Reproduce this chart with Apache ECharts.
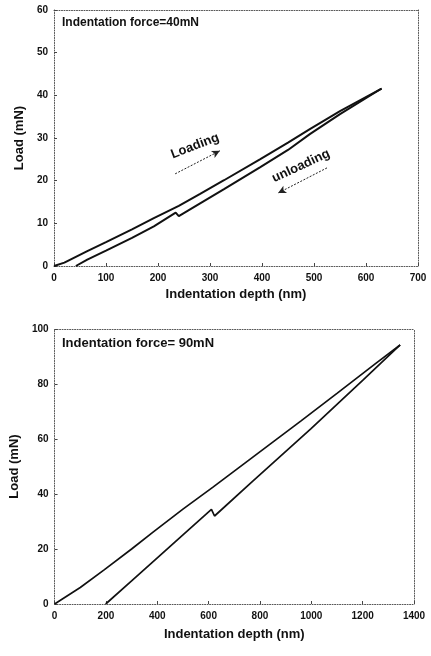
<!DOCTYPE html>
<html>
<head>
<meta charset="utf-8">
<script src="https://cdn.jsdelivr.net/npm/echarts@6/dist/echarts.min.js"></script>
<style>
html,body{margin:0;padding:0;background:#fff;}
#c{width:431px;height:656px;}
</style>
</head>
<body>
<div id="c"></div>
<script>
// ---- Top chart (40 mN) ----
var topLoadDepth   = [0, 20, 64, 100, 150, 192, 240, 281, 327, 396, 450, 492, 550, 630];
var topLoadForce   = [0, 0.8, 3.5, 5.6, 8.6, 11.2, 14.1, 16.9, 20.1, 25.0, 28.9, 32.1, 36.3, 41.6];
var topUnloadDepth = [630, 550, 492, 450, 396, 327, 281, 240, 234, 192, 150, 100, 64, 42];
var topUnloadForce = [41.6, 35.6, 30.9, 27.2, 23.1, 18.0, 14.7, 11.7, 12.5, 9.3, 6.6, 3.6, 1.5, 0];
var topXTicks = [0, 100, 200, 300, 400, 500, 600, 700];
var topYTicks = [0, 10, 20, 30, 40, 50, 60];

// ---- Bottom chart (90 mN) ----
var botLoadDepth   = [0, 100, 193, 300, 386, 500, 617, 771, 960, 1100, 1250, 1346];
var botLoadForce   = [0, 6.0, 12.4, 20.0, 26.3, 34.5, 42.5, 53.3, 66.6, 76.6, 87.4, 94.2];
var botUnloadDepth = [1346, 1200, 999, 771, 623, 611, 500, 386, 300, 199];
var botUnloadForce = [94.2, 81.3, 63.8, 44.6, 32.0, 34.4, 25.1, 15.6, 8.4, 0];
var botXTicks = [0, 200, 400, 600, 800, 1000, 1200, 1400];
var botYTicks = [0, 20, 40, 60, 80, 100];

// annotation arrows for the top chart (data coordinates: start, end)
var loadingArrow   = [[233, 21.6], [319, 27.0]];
var unloadingArrow = [[525, 23.0], [431, 17.1]];

function pairs(xs, ys){ return xs.map(function(x,i){ return [x, ys[i]]; }); }

var FONT = '"Liberation Sans", Arial, sans-serif';
var dotted = {color:'#555', width:1, type:[1,1.5]};

function axesFor(gridIndex, ticks, nameText, isX, nameGap){
  var mn = ticks[0], mx = ticks[ticks.length-1], iv = ticks[1]-ticks[0];
  var main = {
    type:'value', gridIndex:gridIndex, min:mn, max:mx, interval:iv,
    name:nameText, nameLocation:'middle', nameGap:nameGap,
    nameTextStyle:{fontFamily:FONT, fontWeight:'bold', fontSize:13, color:'#111'},
    axisLine:{show:true, lineStyle:dotted},
    axisTick:{show:true, inside:true, length:3, lineStyle:{color:'#444'}},
    axisLabel:{fontFamily:FONT, fontWeight:'bold', fontSize:10, color:'#111', margin:isX?7:6,
      formatter:function(v){ return String(v); }},
    splitLine:{show:false}
  };
  var opp = {
    type:'value', gridIndex:gridIndex, min:mn, max:mx, interval:iv,
    position: isX ? 'top' : 'right',
    axisLine:{show:true, onZero:false, lineStyle:dotted},
    axisTick:{show:false}, axisLabel:{show:false}, splitLine:{show:false}
  };
  return [main, opp];
}

var tx = axesFor(0, topXTicks, 'Indentation depth (nm)', true, 22);
var ty = axesFor(0, topYTicks, 'Load (mN)', false, 28);
var bx = axesFor(1, botXTicks, 'Indentation depth (nm)', true, 24);
var by = axesFor(1, botYTicks, 'Load (mN)', false, 30);

var lineBase = {type:'line', showSymbol:false, symbol:'none', animation:false, smooth:false};

var option = {
  animation:false,
  backgroundColor:'#fff',
  grid:[
    {left:54, top:10, width:364, height:256},
    {left:51, top:329, width:363, height:275}
  ],
  xAxis:[tx[0], tx[1], bx[0], bx[1]],
  yAxis:[ty[0], ty[1], by[0], by[1]],
  series:[
    Object.assign({}, lineBase, {name:'top loading', xAxisIndex:0, yAxisIndex:0,
      data:pairs(topLoadDepth, topLoadForce), lineStyle:{color:'#111', width:2},
      markLine:{silent:true, symbol:['none','arrow'], symbolSize:[6,8], animation:false,
        label:{show:false}, lineStyle:{color:'#222', width:1, type:[2,1.5]},
        data:[
          [{coord:loadingArrow[0]}, {coord:loadingArrow[1]}],
          [{coord:unloadingArrow[0]}, {coord:unloadingArrow[1]}]
        ]}
    }),
    Object.assign({}, lineBase, {name:'top unloading', xAxisIndex:0, yAxisIndex:0,
      data:pairs(topUnloadDepth, topUnloadForce), lineStyle:{color:'#111', width:2}}),
    Object.assign({}, lineBase, {name:'bottom loading', xAxisIndex:2, yAxisIndex:2,
      data:pairs(botLoadDepth, botLoadForce), lineStyle:{color:'#111', width:1.7}}),
    Object.assign({}, lineBase, {name:'bottom unloading', xAxisIndex:2, yAxisIndex:2,
      data:pairs(botUnloadDepth, botUnloadForce), lineStyle:{color:'#111', width:1.7}})
  ],
  graphic:[
    {type:'text', left:62, top:17, style:{text:'Indentation force=40mN', font:'bold 12px '+FONT, fill:'#111'}},
    {type:'text', left:62, top:337, style:{text:'Indentation force= 90mN', font:'bold 13px '+FONT, fill:'#111'}},
    {type:'text', x:195, y:146, rotation:21*Math.PI/180,
      style:{text:'Loading', font:'bold 13px '+FONT, fill:'#111', align:'center', verticalAlign:'middle'}},
    {type:'text', x:301, y:166, rotation:25*Math.PI/180,
      style:{text:'unloading', font:'bold 13px '+FONT, fill:'#111', align:'center', verticalAlign:'middle'}}
  ]
};

var chart = echarts.init(document.getElementById('c'), null, {renderer:'canvas'});
chart.setOption(option);
</script>
</body>
</html>
